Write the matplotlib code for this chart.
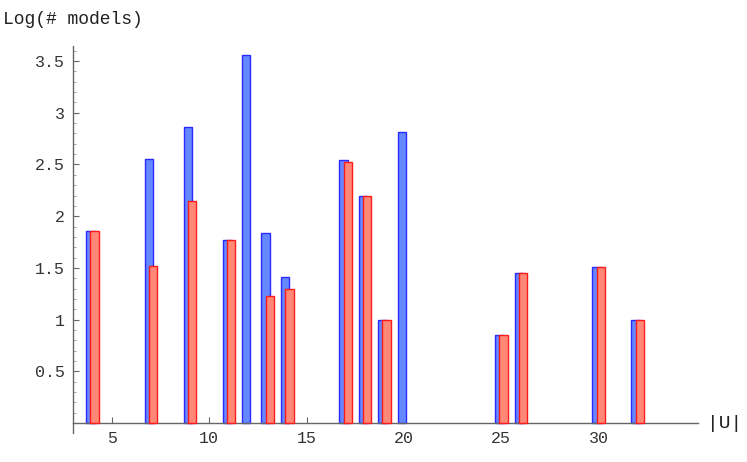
import matplotlib
matplotlib.use("Agg")
import matplotlib.pyplot as plt
from matplotlib.ticker import MultipleLocator

# data
u_blue = [4, 7, 9, 11, 12, 13, 14, 17, 18, 19, 20, 25, 26, 30, 32]
log_blue = [1.86, 2.55, 2.86, 1.77, 3.56, 1.84, 1.41, 2.54, 2.20, 1.00, 2.81, 0.85, 1.45, 1.51, 1.00]
u_red = [4, 7, 9, 11, 13, 14, 17, 18, 19, 25, 26, 30, 32]
log_red = [1.86, 1.52, 2.15, 1.77, 1.23, 1.30, 2.52, 2.20, 1.00, 0.85, 1.45, 1.51, 1.00]
y_ticks = [0.5, 1, 1.5, 2, 2.5, 3, 3.5]
y_tick_labels = ["0.5", "1", "1.5", "2", "2.5", "3", "3.5"]
x_ticks = [5, 10, 15, 20, 25, 30]

plt.rcParams['font.family'] = ['Liberation Mono', 'DejaVu Sans Mono']

W, H = 747, 462
fig = plt.figure(figsize=(W / 100, H / 100), dpi=100)
# axes in pixel coordinates
left_px, right_px = 73, 698
top_px, bottom_px = 46, 433
ax = fig.add_axes([left_px / W, (H - bottom_px) / H,
                   (right_px - left_px) / W, (bottom_px - top_px) / H])

width = 0.43
ax.bar([u - 0.105 for u in u_blue], log_blue, width=width,
       color='#6688ff', edgecolor='#2a2aff', linewidth=1.0, zorder=2)
ax.bar([u + 0.11 for u in u_red], log_red, width=width,
       color='#ff8877', edgecolor='#ff1a1a', linewidth=1.0, zorder=3)

ax.set_xlim(3, 35.1)
ax.set_ylim(-0.097, 3.646)

for s in ['top', 'right']:
    ax.spines[s].set_visible(False)
ax.spines['bottom'].set_position(('data', 0))
axis_color = '#666666'
ax.spines['bottom'].set_color(axis_color)
ax.spines['left'].set_color(axis_color)
ax.spines['bottom'].set_linewidth(1.0)
ax.spines['left'].set_linewidth(1.0)

ax.set_yticks(y_ticks)
ax.set_yticklabels(y_tick_labels)
ax.yaxis.set_minor_locator(MultipleLocator(0.1))
ax.set_xticks(x_ticks)
ax.set_xticklabels([str(v) for v in x_ticks])

ax.tick_params(axis='both', which='major', direction='in', length=4,
               width=0.8, color=axis_color, labelsize=12, labelcolor='#333333', pad=6)
ax.tick_params(axis='y', which='minor', direction='in', length=2,
               width=0.6, color='#999999')

fig.text(3 / W, 1 - 20 / H, "Log(# models)", ha='left', va='center',
         fontsize=13, color='#222222')
fig.text(725 / W, 1 - 423 / H, "|U|", ha='center', va='center',
         fontsize=14, color='#222222')

fig.savefig("out.png", dpi=100)
